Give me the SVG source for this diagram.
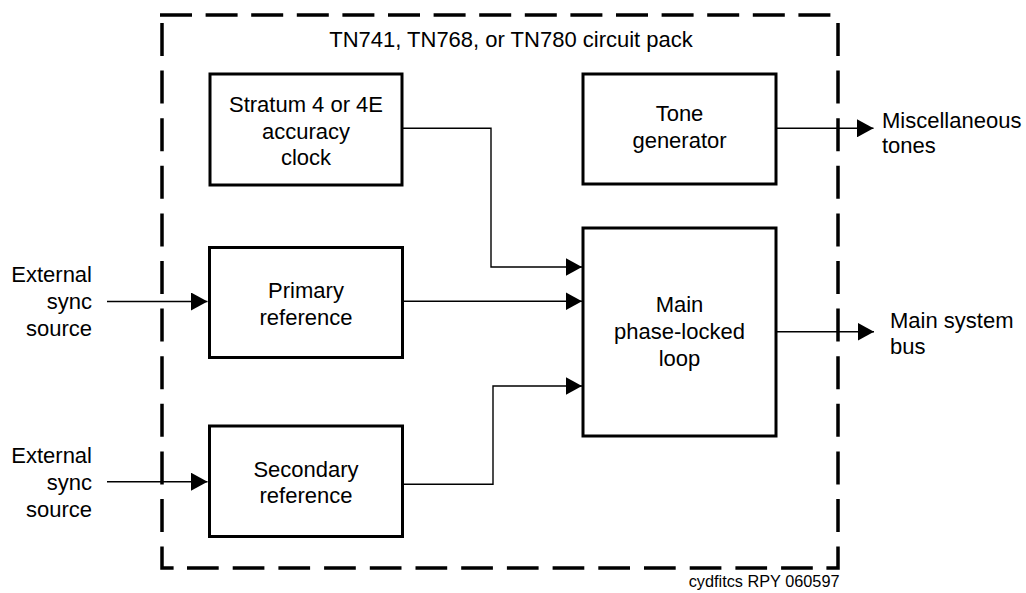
<svg xmlns="http://www.w3.org/2000/svg" width="1026" height="593" viewBox="0 0 1026 593">
<style>
text{font-family:"Liberation Sans",Arial,sans-serif;font-size:22px;fill:#000}
.c{text-anchor:middle}
.r{text-anchor:end}
.box{fill:#fff;stroke:#000;stroke-width:3}
.b{fill:none;stroke:#000;stroke-width:3.5;stroke-linejoin:miter}
.ln{fill:none;stroke:#000;stroke-width:1.4}
</style>
<defs>
<marker id="ah" markerUnits="userSpaceOnUse" markerWidth="17" markerHeight="18" refX="16.5" refY="9" orient="auto" viewBox="0 0 17 18">
<path d="M0,0 L16.5,9 L0,18 Z" fill="#000"/>
</marker>
</defs>
<rect width="1026" height="593" fill="#fff"/>
<g id="border">
<path class="b" d="M160,15 H831" stroke-dasharray="32 13.6"/>
<path class="b" d="M162,23 V568 H174" stroke-dasharray="33 14.6"/>
<path class="b" d="M838,23 V568 H826" stroke-dasharray="33 14.6"/>
<path class="b" d="M187,568 H813" stroke-dasharray="31.7 14"/>
<text class="c" x="511" y="47">TN741, TN768, or TN780 circuit pack</text>
</g>
<g id="connectors">
<path class="ln" d="M402,128.3 H491 V267 H582" marker-end="url(#ah)"/>
<path class="ln" d="M402,301.3 H582" marker-end="url(#ah)"/>
<path class="ln" d="M402,484.3 H493 V386 H582" marker-end="url(#ah)"/>
<path class="ln" d="M107,301.5 H207.5" marker-end="url(#ah)"/>
<path class="ln" d="M107,481.7 H207.5" marker-end="url(#ah)"/>
<path class="ln" d="M776,128.3 H873.5" marker-end="url(#ah)"/>
<path class="ln" d="M776,331.7 H874" marker-end="url(#ah)"/>
</g>
<g id="stratum">
<rect class="box" x="210" y="74" width="192" height="111"/>
<text class="c" x="306" y="112">Stratum 4 or 4E</text>
<text class="c" x="306" y="138.5">accuracy</text>
<text class="c" x="306" y="165">clock</text>
</g>
<g id="tone">
<rect class="box" x="583" y="74" width="193" height="110"/>
<text class="c" x="679.5" y="121">Tone</text>
<text class="c" x="679.5" y="148">generator</text>
</g>
<g id="primary">
<rect class="box" x="209.5" y="247.5" width="193" height="110"/>
<text class="c" x="306" y="298">Primary</text>
<text class="c" x="306" y="324.5">reference</text>
</g>
<g id="secondary">
<rect class="box" x="209.5" y="426" width="193" height="110.5"/>
<text class="c" x="306" y="476.5">Secondary</text>
<text class="c" x="306" y="503">reference</text>
</g>
<g id="pll">
<rect class="box" x="583" y="228" width="193" height="208"/>
<text class="c" x="679.5" y="311.5">Main</text>
<text class="c" x="679.5" y="339">phase-locked</text>
<text class="c" x="679.5" y="366">loop</text>
</g>
<g id="ext1">
<text class="r" x="92" y="282">External</text>
<text class="r" x="92" y="309">sync</text>
<text class="r" x="92" y="336">source</text>
</g>
<g id="ext2">
<text class="r" x="92" y="463">External</text>
<text class="r" x="92" y="490">sync</text>
<text class="r" x="92" y="517">source</text>
</g>
<g id="misc">
<text x="882" y="127.5">Miscellaneous</text>
<text x="882" y="152.5">tones</text>
</g>
<g id="bus">
<text x="890" y="327.5">Main system</text>
<text x="890" y="353.5">bus</text>
</g>
<text class="r" x="839.5" y="586.5" style="font-size:16.3px">cydfitcs RPY 060597</text>
</svg>
